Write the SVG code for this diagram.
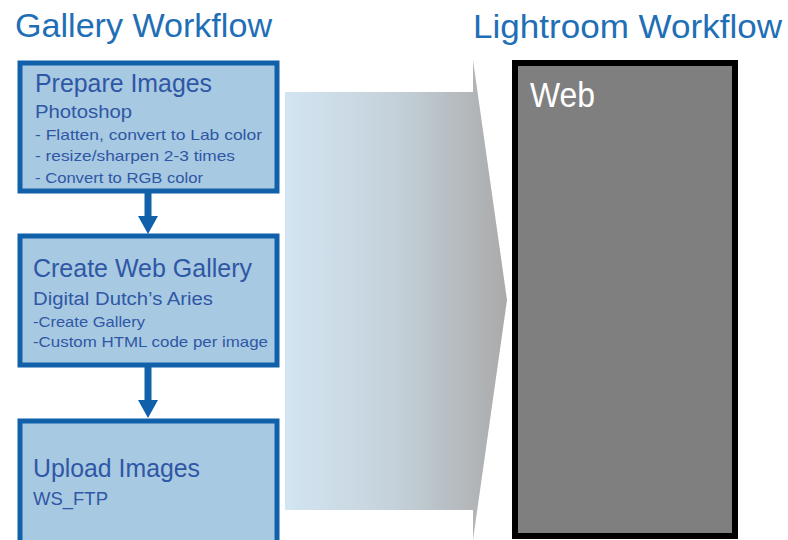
<svg xmlns="http://www.w3.org/2000/svg" width="788" height="540" viewBox="0 0 788 540">
<defs>
<linearGradient id="grad" x1="285" y1="0" x2="507" y2="0" gradientUnits="userSpaceOnUse">
<stop offset="0" stop-color="#d3e5f2"/>
<stop offset="0.5" stop-color="#c4d1da"/>
<stop offset="1" stop-color="#aaaaaa"/>
</linearGradient>
<marker id="ah" markerUnits="userSpaceOnUse" markerWidth="20" markerHeight="20" refX="0" refY="10" orient="auto">
<path d="M0,0 L18,10 L0,20 z" fill="#1060aa"/>
</marker>
<style>
text{font-family:"Liberation Sans",Arial,sans-serif}
.title{font-size:34px;fill:#1f6fb6}
.box{fill:#a7c9e1;stroke:#1060aa;stroke-width:5}
.h{font-size:26px;fill:#2f57a5}
.s{font-size:18px;fill:#2f57a5}
.t{font-size:15px;fill:#2f57a5}
.conn{stroke:#1060aa;stroke-width:7;fill:none}
</style>
</defs>
<rect width="788" height="540" fill="#ffffff"/>
<text class="title" x="15" y="37" textLength="257" lengthAdjust="spacingAndGlyphs">Gallery Workflow</text>
<text class="title" x="473" y="38" textLength="309" lengthAdjust="spacingAndGlyphs">Lightroom Workflow</text>
<polygon points="285,92 473,92 473,60 507,300 473,540 473,510 285,510" fill="url(#grad)"/>
<g id="node-prepare">
<rect class="box" x="20" y="63" width="257" height="128"/>
<text class="h" x="35" y="92" textLength="177" lengthAdjust="spacingAndGlyphs">Prepare Images</text>
<text class="s" x="35" y="118" textLength="97" lengthAdjust="spacingAndGlyphs">Photoshop</text>
<text class="t" x="35" y="140" textLength="227" lengthAdjust="spacingAndGlyphs">- Flatten, convert to Lab color</text>
<text class="t" x="35" y="161" textLength="200" lengthAdjust="spacingAndGlyphs">- resize/sharpen 2-3 times</text>
<text class="t" x="35" y="183" textLength="168" lengthAdjust="spacingAndGlyphs">- Convert to RGB color</text>
</g>
<g id="node-create">
<rect class="box" x="20" y="236" width="257" height="129"/>
<text class="h" x="33" y="277" textLength="219" lengthAdjust="spacingAndGlyphs">Create Web Gallery</text>
<text class="s" x="33" y="305" textLength="180" lengthAdjust="spacingAndGlyphs">Digital Dutch’s Aries</text>
<text class="t" x="33" y="327" textLength="112" lengthAdjust="spacingAndGlyphs">-Create Gallery</text>
<text class="t" x="33" y="347" textLength="235" lengthAdjust="spacingAndGlyphs">-Custom HTML code per image</text>
</g>
<g id="node-upload">
<rect class="box" x="20" y="421" width="257" height="130"/>
<text class="h" x="33" y="477" textLength="167" lengthAdjust="spacingAndGlyphs">Upload Images</text>
<text class="s" x="33" y="505" textLength="75" lengthAdjust="spacingAndGlyphs">WS_FTP</text>
</g>
<g id="node-web">
<rect x="515" y="63" width="220" height="473" fill="#7f7f7f" stroke="#000000" stroke-width="6"/>
<text x="530" y="107" font-size="35" fill="#ffffff" textLength="65" lengthAdjust="spacingAndGlyphs">Web</text>
</g>
<g id="connectors">
<line class="conn" x1="148" y1="193" x2="148" y2="216" marker-end="url(#ah)"/>
<line class="conn" x1="148" y1="367" x2="148" y2="400" marker-end="url(#ah)"/>
</g>
</svg>
